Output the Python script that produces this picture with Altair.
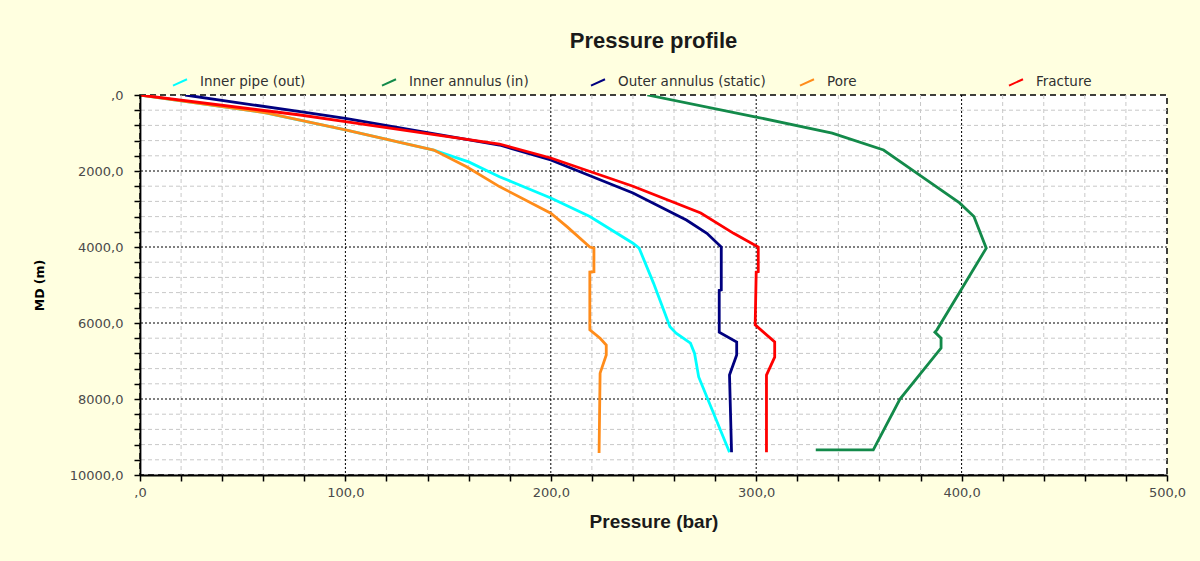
import altair as alt
import pandas as pd

# ---- data ----
series_names = ["Inner pipe (out)", "Inner annulus (in)", "Outer annulus (static)", "Pore", "Fracture"]
series_colors = ["#00FFFF", "#138A4A", "#00007F", "#FF8C1A", "#FF0000"]

inner_pipe_md = [0, 460, 920, 1450, 1760, 2150, 2710, 3200, 3900, 4030, 4950, 6100, 6270, 6530, 6800, 7420, 9400]
inner_pipe_p = [0, 60, 100, 143, 160, 175, 200, 219, 240, 243, 250, 258, 261, 268, 270, 272, 287]

inner_ann_md = [0, 580, 1003, 1447, 2050, 2840, 3200, 4030, 6180, 6240, 6400, 6660, 8000, 9340, 9340]
inner_ann_p = [247, 300, 337, 362, 378, 399, 406, 412, 388, 387, 390, 390, 370, 357, 329]

outer_ann_md = [0, 440, 614, 1316, 1710, 2580, 3290, 3640, 4000, 5130, 5140, 6240, 6500, 6840, 7370, 9400]
outer_ann_p = [22, 78, 100, 175, 200, 240, 266, 276, 283, 283, 282, 282, 290.5, 290.5, 287, 288]

pore_md = [0, 475, 920, 1450, 1890, 2410, 3110, 3470, 4000, 4030, 4650, 4660, 6050, 6180, 6400, 6580, 6840, 7320, 9420]
pore_p = [0, 62, 100, 143, 159, 175, 200, 208, 219, 221, 221, 219, 219, 219, 224, 227, 227, 224, 223.5]

fracture_md = [0, 526, 700, 1290, 1658, 2400, 3105, 3640, 4000, 4650, 4660, 6050, 6500, 6900, 7370, 9400]
fracture_p = [0, 78, 100, 175, 200, 240, 273, 289, 301, 301, 300, 299.5, 309, 309, 305, 305]

x_minor = [20, 40, 60, 80, 120, 140, 160, 180, 220, 240, 260, 280, 320, 340, 360, 380, 420, 440, 460, 480]
x_major = [100, 200, 300, 400]
y_minor = [400, 800, 1200, 1600, 2400, 2800, 3200, 3600, 4400, 4800, 5200, 5600,
           6400, 6800, 7200, 7600, 8400, 8800, 9200, 9600]
y_major = [2000, 4000, 6000, 8000]
x_ticks = list(range(0, 501, 20))
y_ticks = list(range(0, 10001, 400))

# ---- build table ----
rows = []
for name, md, p in [
    (series_names[0], inner_pipe_md, inner_pipe_p),
    (series_names[1], inner_ann_md, inner_ann_p),
    (series_names[2], outer_ann_md, outer_ann_p),
    (series_names[3], pore_md, pore_p),
    (series_names[4], fracture_md, fracture_p),
]:
    for i, (d, v) in enumerate(zip(md, p)):
        rows.append({"series": name, "md": d, "p": v, "idx": i})
df = pd.DataFrame(rows)

xscale = alt.Scale(domain=[0, 500], nice=False, zero=False)
yscale = alt.Scale(domain=[0, 10000], reverse=True, nice=False, zero=False)

x_label_expr = "datum.value == 0 ? ',0' : (datum.value % 100 == 0 ? replace(format(datum.value, '.1f'), '.', ',') : '')"
y_label_expr = "datum.value == 0 ? ',0' : (datum.value % 2000 == 0 ? replace(format(datum.value, '.1f'), '.', ',') : '')"

x_axis = alt.Axis(title="Pressure (bar)", values=x_ticks, labelExpr=x_label_expr,
                  grid=False, tickSize=6, tickColor="black", tickWidth=1.5,
                  domainColor="black", domainWidth=1.8, zindex=2,
                  labelFont="DejaVu Sans", labelFontSize=13, labelColor="#4a4a4a",
                  labelPadding=5, labelOverlap=False, labelFlush=False,
                  titleFont="Liberation Sans", titleFontSize=19, titleFontWeight="bold",
                  titleColor="#1a1a1a", titlePadding=13)
y_axis = alt.Axis(title="MD (m)", values=y_ticks, labelExpr=y_label_expr,
                  grid=False, tickSize=6, tickColor="black", tickWidth=1.5,
                  domainColor="black", domainWidth=1.8, zindex=2,
                  labelFont="DejaVu Sans", labelFontSize=13, labelColor="#4a4a4a",
                  labelPadding=11, labelOverlap=False, labelFlush=False,
                  titleFont="DejaVu Sans", titleFontSize=12.5, titleFontWeight="bold",
                  titleColor="#000000", titlePadding=23)

minor_style = dict(color="#C8C8C8", strokeDash=[4, 3], strokeWidth=1)
major_style = dict(color="#000000", strokeDash=[2, 2], strokeWidth=1)

gx_minor = alt.Chart(pd.DataFrame({"v": x_minor})).mark_rule(**minor_style).encode(
    x=alt.X("v:Q", scale=xscale, axis=x_axis))
gy_minor = alt.Chart(pd.DataFrame({"v": y_minor})).mark_rule(**minor_style).encode(
    y=alt.Y("v:Q", scale=yscale, axis=y_axis))
gx_major = alt.Chart(pd.DataFrame({"v": x_major})).mark_rule(**major_style).encode(
    x=alt.X("v:Q", scale=xscale, axis=x_axis))
gy_major = alt.Chart(pd.DataFrame({"v": y_major})).mark_rule(**major_style).encode(
    y=alt.Y("v:Q", scale=yscale, axis=y_axis))

lines = alt.Chart(df).mark_line(strokeWidth=2.8, clip=True).encode(
    x=alt.X("p:Q", scale=xscale, axis=x_axis),
    y=alt.Y("md:Q", scale=yscale, axis=y_axis),
    color=alt.Color("series:N",
                    scale=alt.Scale(domain=series_names, range=series_colors),
                    sort=series_names,
                    legend=alt.Legend(title=None, orient="none", legendX=32, legendY=-21,
                                      direction="horizontal", columns=5, gridAlign="all",
                                      columnPadding=30,
                                      symbolType="M-1,0.45L1,-0.45", symbolSize=196,
                                      symbolStrokeWidth=2, symbolFillColor="transparent",
                                      labelFont="DejaVu Sans", labelFontSize=13.5,
                                      labelColor="#303030", labelOffset=12)),
    order=alt.Order("idx:Q"),
)

chart = alt.layer(gx_minor, gy_minor, gx_major, gy_major, lines).properties(
    width=1027, height=380,
    autosize=alt.AutoSizeParams(type="none"),
    padding={"left": 140, "top": 95, "right": 33, "bottom": 86},
    title=alt.TitleParams("Pressure profile", font="Liberation Sans", fontSize=22,
                          fontWeight="bold", color="#1a1a1a", anchor="middle",
                          offset=21),
).configure(background="#FFFFE0").configure_view(
    fill="white", stroke="black", strokeDash=[6, 4], strokeWidth=1.5
)

chart.save("out.html", embed_options={"renderer": "svg", "actions": False})
